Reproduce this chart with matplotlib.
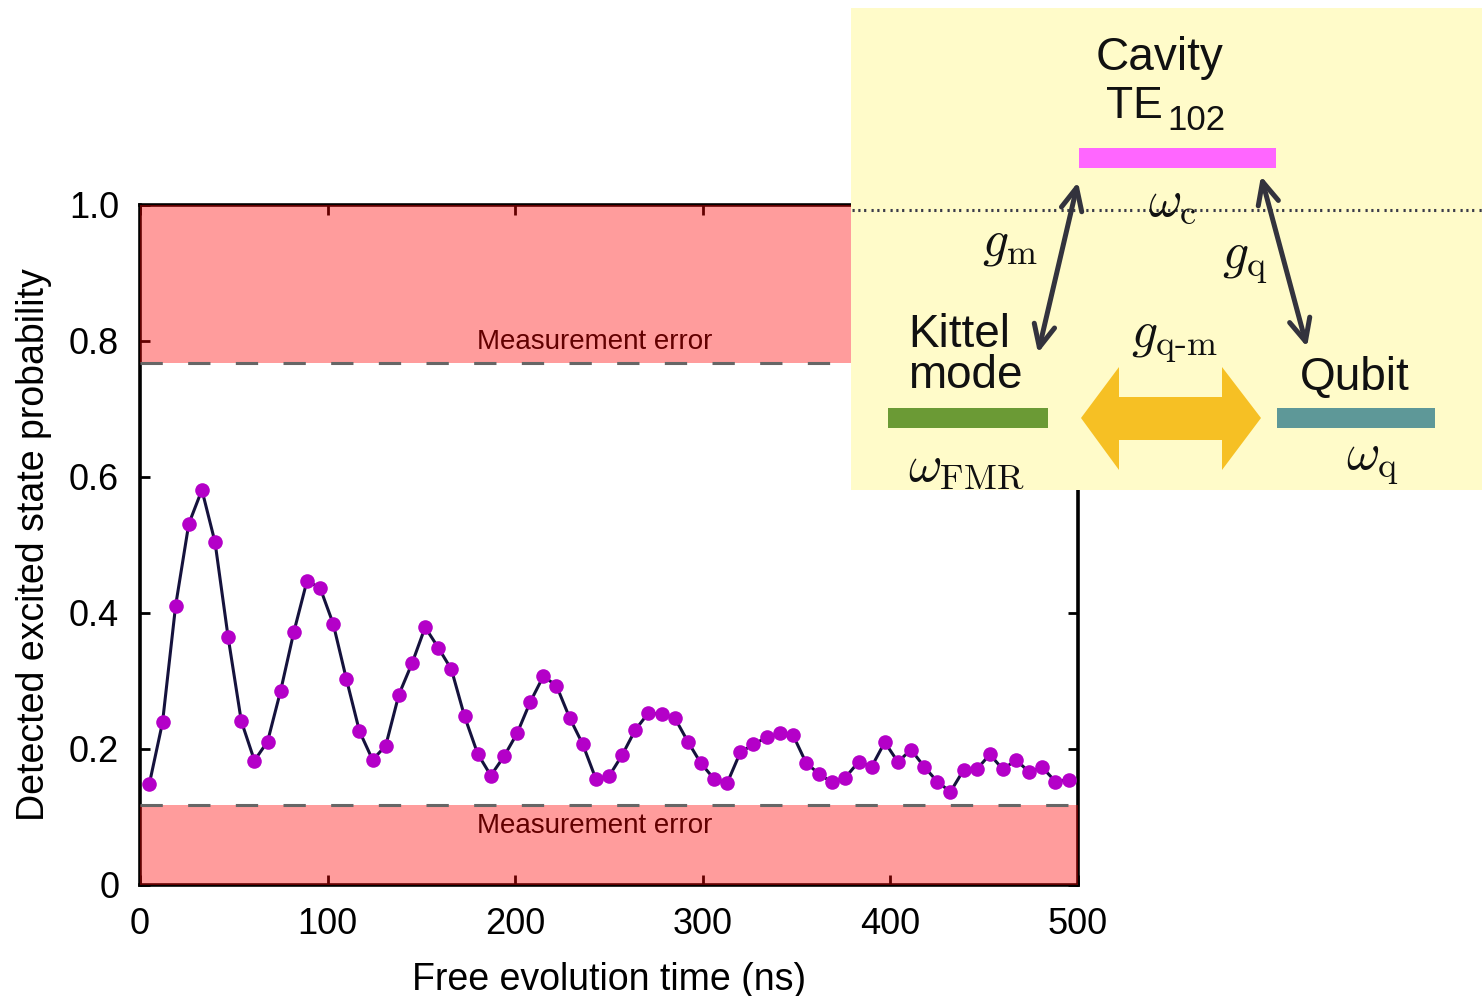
import matplotlib
matplotlib.use("Agg")
import matplotlib.pyplot as plt
from matplotlib.patches import Rectangle, Polygon

plt.rcParams['font.family'] = ['Liberation Sans', 'DejaVu Sans']
plt.rcParams['mathtext.fontset'] = 'cm'

# Free evolution time (ns) and detected excited-state probability
time_ns = [5, 12, 19, 26, 33, 40, 47, 54, 61, 68,
           75, 82, 89, 96, 103, 110, 117, 124, 131, 138,
           145, 152, 159, 166, 173, 180, 187, 194, 201, 208,
           215, 222, 229, 236, 243, 250, 257, 264, 271, 278,
           285, 292, 299, 306, 313, 320, 327, 334, 341, 348,
           355, 362, 369, 376, 383, 390, 397, 404, 411, 418,
           425, 432, 439, 446, 453, 460, 467, 474, 481, 488,
           495]
probability = [0.149, 0.239, 0.411, 0.531, 0.581, 0.504, 0.364, 0.241, 0.183, 0.211,
               0.286, 0.372, 0.447, 0.437, 0.384, 0.303, 0.226, 0.184, 0.205, 0.280,
               0.326, 0.379, 0.349, 0.317, 0.248, 0.193, 0.161, 0.189, 0.223, 0.269,
               0.307, 0.293, 0.246, 0.207, 0.156, 0.160, 0.191, 0.228, 0.253, 0.251,
               0.246, 0.211, 0.179, 0.156, 0.150, 0.195, 0.207, 0.217, 0.223, 0.221,
               0.180, 0.163, 0.151, 0.158, 0.181, 0.174, 0.210, 0.181, 0.199, 0.174,
               0.152, 0.137, 0.169, 0.170, 0.192, 0.170, 0.184, 0.166, 0.173, 0.152,
               0.155]

# Measurement-error limits
error_upper = 0.767
error_lower = 0.118

x_ticks = [0, 100, 200, 300, 400, 500]
x_tick_labels = ['0', '100', '200', '300', '400', '500']
y_ticks = [0, 0.2, 0.4, 0.6, 0.8, 1.0]
y_tick_labels = ['0', '0.2', '0.4', '0.6', '0.8', '1.0']

W, H = 1484, 996
fig = plt.figure(figsize=(W / 100, H / 100), dpi=100)
ax = fig.add_axes([140 / W, 1 - 885 / H, 938 / W, 680 / H])

ax.plot(time_ns, probability, color='#15123d', lw=2.2, zorder=3)
ax.plot(time_ns, probability, 'o', color='#b400c8', ms=10.5, mec='none', zorder=4)

ax.set_xlim(0, 500)
ax.set_ylim(0, 1.0)
ax.set_xticks(x_ticks)
ax.set_xticklabels(x_tick_labels)
ax.set_yticks(y_ticks)
ax.set_yticklabels(y_tick_labels)
ax.tick_params(direction='in', length=7, width=2, labelsize=26,
               top=True, right=True, pad=16)
ax.tick_params(axis='y', pad=15)
for sp in ax.spines.values():
    sp.set_linewidth(2.6)
    sp.set_color('black')

ax.set_xlabel('Free evolution time (ns)', fontsize=27, labelpad=14)
ax.set_ylabel('Detected excited state probability', fontsize=27, labelpad=12)

# translucent error bands over everything inside the frame
ax.axhspan(error_upper, 1.0, color='#ff0000', alpha=0.39, lw=0, zorder=10)
ax.axhspan(0, error_lower, color='#ff0000', alpha=0.39, lw=0, zorder=10)
for yv in (error_upper, error_lower):
    ax.axhline(yv, color='#666666', lw=2.2, dashes=(7.3, 8.3), zorder=11)

ax.text(242.5, 0.7985, 'Measurement error', fontsize=20, ha='center',
        va='center', color='black', zorder=5)
ax.text(242.5, 0.087, 'Measurement error', fontsize=20, ha='center',
        va='center', color='black', zorder=5)

# coupling diagram, laid out in pixel units
ins = fig.add_axes([851 / W, 1 - 490 / H, 631 / W, 482 / H], zorder=20)
ins.set_xlim(851, 1482)
ins.set_ylim(490, 8)
ins.axis('off')
ins.add_patch(Rectangle((851, 8), 631, 482, color='#fffbc9', lw=0, zorder=0))

lw_d = 2.2
pat_px = [2.2, 3.6, 2.2, 3.6, 2.2, 5.2]
ins.plot([852, 1482], [210, 210], color='#3c3c4a', lw=lw_d,
         linestyle=(0, [p * 0.72 / lw_d for p in pat_px]), zorder=1)

ins.add_patch(Rectangle((1079, 148), 197, 20, color='#ff66ff', lw=0, zorder=2))
ins.add_patch(Rectangle((888, 408), 160, 20, color='#6b9a35', lw=0, zorder=2))
ins.add_patch(Rectangle((1277, 408), 158, 20, color='#5e9898', lw=0, zorder=2))

ins.add_patch(Polygon([(1081, 418), (1119, 367), (1119, 397), (1222, 397),
                       (1222, 367), (1261, 418), (1222, 470), (1222, 440),
                       (1119, 440), (1119, 470)], closed=True,
                      color='#f6c024', lw=0, zorder=2))

arrow_style = dict(arrowstyle='<->,head_length=1.6,head_width=0.75', lw=3.6,
                   color='#33333d', shrinkA=0, shrinkB=0)
ins.annotate('', xy=(1078, 182), xytext=(1038, 353), arrowprops=arrow_style,
             zorder=3)
ins.annotate('', xy=(1261, 176), xytext=(1307, 347), arrowprops=arrow_style,
             zorder=3)

txt = dict(color='#111111', zorder=4)
ins.text(1160, 70, 'Cavity', fontsize=33, ha='center', va='baseline', **txt)
ins.text(1106, 118, 'TE', fontsize=32, ha='left', va='baseline', **txt)
ins.text(1167, 130, '102', fontsize=25, ha='left', va='baseline', **txt)
ins.text(908, 347, 'Kittel', fontsize=33, ha='left', va='baseline', **txt)
ins.text(908, 388, 'mode', fontsize=33, ha='left', va='baseline', **txt)
ins.text(1300, 390, 'Qubit', fontsize=33, ha='left', va='baseline', **txt)

ins.text(1172, 203, r'$\omega_{\rm c}$', fontsize=37, ha='center', va='center', **txt)
ins.text(1010, 243, r'$g_{\rm m}$', fontsize=37, ha='center', va='center', **txt)
ins.text(1245, 261, r'$g_{\rm q}$', fontsize=37, ha='center', va='center', **txt)
ins.text(1174, 340, r'$g_{\rm q\text{-}m}$', fontsize=37, ha='center', va='center', **txt)
ins.text(966, 467, r'$\omega_{\rm FMR}$', fontsize=37, ha='center', va='center', **txt)
ins.text(1373, 462, r'$\omega_{\rm q}$', fontsize=37, ha='center', va='center', **txt)

fig.savefig('out.png', dpi=100)
